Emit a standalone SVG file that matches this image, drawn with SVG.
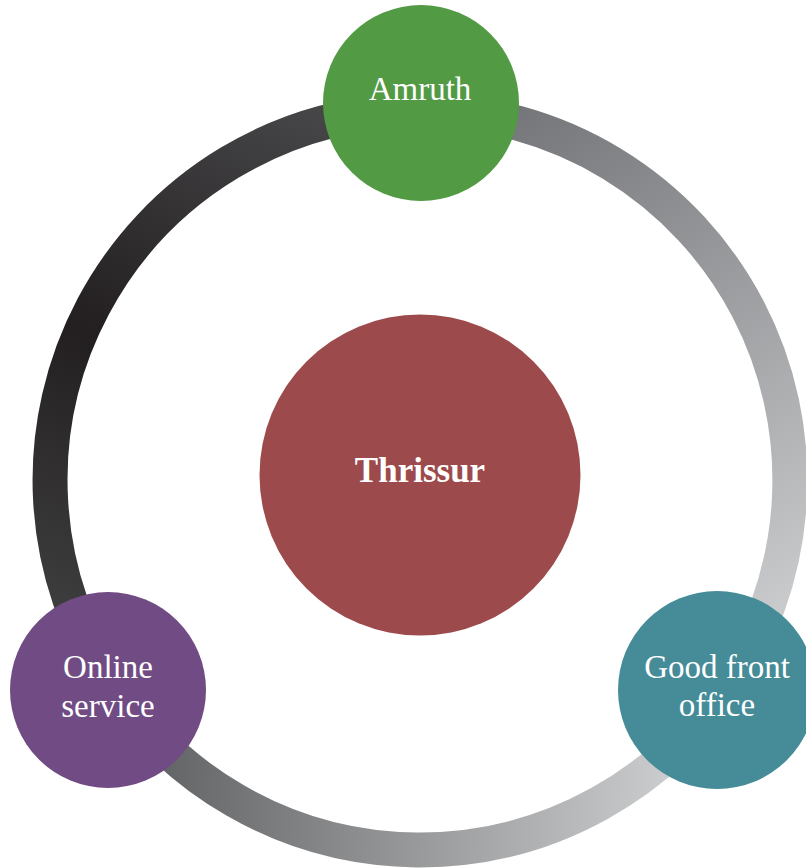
<svg xmlns="http://www.w3.org/2000/svg" width="806" height="868" viewBox="0 0 806 868">
  <defs>
    <linearGradient id="gLeft" gradientUnits="userSpaceOnUse" x1="400" y1="100" x2="120" y2="720">
      <stop offset="0" stop-color="#4b4b4d"/>
      <stop offset="0.5" stop-color="#231f20"/>
      <stop offset="1" stop-color="#454647"/>
    </linearGradient>
    <linearGradient id="gRight" gradientUnits="userSpaceOnUse" x1="500" y1="110" x2="806" y2="640">
      <stop offset="0" stop-color="#747578"/>
      <stop offset="1" stop-color="#cfd0d2"/>
    </linearGradient>
    <linearGradient id="gBottom" gradientUnits="userSpaceOnUse" x1="160" y1="740" x2="670" y2="760">
      <stop offset="0" stop-color="#636466"/>
      <stop offset="1" stop-color="#cbcccd"/>
    </linearGradient>
  </defs>
  <style>
    .ring { fill: none; stroke-width: 35; }
    .label { font-family: "Liberation Serif", "DejaVu Serif", serif; font-size: 33px; fill: #ffffff; text-anchor: middle; }
    .center { font-family: "Liberation Serif", "DejaVu Serif", serif; font-size: 35px; font-weight: bold; fill: #ffffff; text-anchor: middle; }
  </style>
  <rect width="806" height="868" fill="#ffffff"/>
  <g id="connectors">
    <path class="ring" stroke="url(#gLeft)" d="M 420 110 A 370 370 0 0 0 113.3 686.9"/>
    <path class="ring" stroke="url(#gRight)" d="M 420 110 A 370 370 0 0 1 723 692.2"/>
    <path class="ring" stroke="url(#gBottom)" d="M 723 692.2 A 370 370 0 0 1 113.3 686.9"/>
  </g>
  <g id="thrissur">
    <circle cx="420" cy="475" r="160.5" fill="#9c4a4b"/>
    <text class="center" x="420" y="482">Thrissur</text>
  </g>
  <g id="amruth">
    <circle cx="421" cy="103" r="98" fill="#529a44"/>
    <text class="label" x="420" y="100">Amruth</text>
  </g>
  <g id="online-service">
    <circle cx="108" cy="690" r="98" fill="#714b84"/>
    <text class="label" x="108" y="678">Online</text>
    <text class="label" x="108" y="717">service</text>
  </g>
  <g id="good-front-office">
    <circle cx="717" cy="690" r="99" fill="#458c98"/>
    <text class="label" x="717" y="678">Good front</text>
    <text class="label" x="717" y="716">office</text>
  </g>
</svg>
